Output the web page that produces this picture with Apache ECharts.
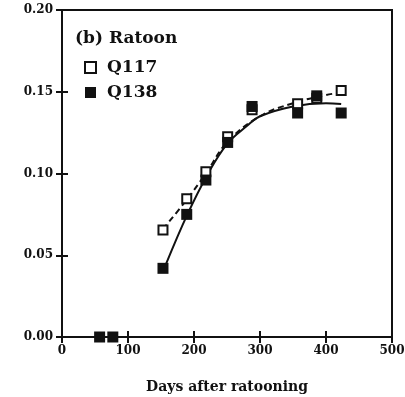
<!DOCTYPE html>
<html><head><meta charset="utf-8">
<script src="https://cdn.jsdelivr.net/npm/echarts@6/dist/echarts.min.js"></script>
<style>html,body{margin:0;padding:0;background:#fff}#c{width:405px;height:397px}</style>
</head><body><div id="c"></div>
<script>
var q117Days = [153, 189, 218, 251, 288, 357, 386, 423];
var q117Vals = [0.0655, 0.0845, 0.101, 0.1225, 0.139, 0.1426, 0.146, 0.1508];
var q138Days = [57, 77, 153, 189, 218, 251, 288, 357, 386, 423];
var q138Vals = [0, 0, 0.042, 0.075, 0.096, 0.119, 0.141, 0.137, 0.1475, 0.137];
var fit117Days = [153, 189, 218, 250, 300, 350, 400, 423];
var fit117Vals = [0.066, 0.084, 0.1, 0.119, 0.135, 0.143, 0.148, 0.1495];
var fit138Days = [158, 190, 220, 250, 280, 300, 350, 400, 423];
var fit138Vals = [0.045, 0.075, 0.099, 0.118, 0.129, 0.135, 0.141, 0.143, 0.1425];
var xTicks = [0, 100, 200, 300, 400, 500];
var yTicks = ['0.00', '0.05', '0.10', '0.15', '0.20'];

function pairs(a, b) { return a.map(function (v, i) { return [v, b[i]]; }); }
var FONT = 'DejaVu Serif';
var chart = echarts.init(document.getElementById('c'));
chart.setOption({
  animation: false,
  title: { text: '(b) Ratoon', left: 70, top: 25,
    textStyle: { fontFamily: FONT, fontWeight: 'bold', fontSize: 17, color: '#111' } },
  legend: {
    data: ['Q117', 'Q138'], orient: 'vertical', left: 79, top: 54,
    itemWidth: 11, itemHeight: 11, itemGap: 8,
    textStyle: { fontFamily: FONT, fontWeight: 'bold', fontSize: 17, color: '#111', padding: [0, 0, 0, 6] }
  },
  grid: { left: 62, right: 13, top: 10, bottom: 60, outerBoundsMode: 'none', containLabel: false,
    show: true, borderColor: '#111', borderWidth: 2, backgroundColor: 'transparent' },
  xAxis: [{
    type: 'value', min: 0, max: 500, interval: 100,
    name: 'Days after ratooning', nameLocation: 'middle', nameGap: 43,
    nameTextStyle: { fontFamily: FONT, fontWeight: 'bold', fontSize: 14, color: '#111' },
    axisLine: { show: true, lineStyle: { color: '#111', width: 2 } },
    axisTick: { show: true, inside: true, length: 6, lineStyle: { color: '#111', width: 2 } },
    axisLabel: { margin: 8, fontFamily: FONT, fontWeight: 'bold', fontSize: 12, color: '#111',
      formatter: function (v) { return xTicks.indexOf(v) >= 0 ? String(v) : ''; } },
    splitLine: { show: false }
  }, {
    type: 'value', min: 0, max: 500, interval: 100, position: 'top',
    axisLine: { show: true, lineStyle: { color: '#111', width: 2 } },
    axisTick: { show: true, inside: true, length: 6, lineStyle: { color: '#111', width: 2 } },
    axisLabel: { show: false }, splitLine: { show: false }
  }],
  yAxis: [{
    type: 'value', min: 0, max: 0.2, interval: 0.05,
    axisLine: { show: true, lineStyle: { color: '#111', width: 2 } },
    axisTick: { show: true, inside: true, length: 6, lineStyle: { color: '#111', width: 2 } },
    axisLabel: { margin: 9, fontFamily: FONT, fontWeight: 'bold', fontSize: 12, color: '#111',
      formatter: function (v) { return yTicks[Math.round(v / 0.05)]; } },
    splitLine: { show: false }
  }, {
    type: 'value', min: 0, max: 0.2, interval: 0.05, position: 'right',
    axisLine: { show: true, lineStyle: { color: '#111', width: 2 } },
    axisTick: { show: true, inside: true, length: 6, lineStyle: { color: '#111', width: 2 } },
    axisLabel: { show: false }, splitLine: { show: false }
  }],
  series: [
    { name: 'fit117', type: 'line', smooth: 0.4, showSymbol: false, symbol: 'none',
      data: pairs(fit117Days, fit117Vals), lineStyle: { color: '#111', width: 2, type: [6, 4] }, z: 1 },
    { name: 'fit138', type: 'line', smooth: 0.4, showSymbol: false, symbol: 'none',
      data: pairs(fit138Days, fit138Vals), lineStyle: { color: '#111', width: 2 }, z: 1 },
    { name: 'Q117', type: 'scatter', symbol: 'rect', symbolSize: 9, clip: false,
      data: pairs(q117Days, q117Vals),
      itemStyle: { color: '#fff', borderColor: '#111', borderWidth: 2, opacity: 1 }, z: 3 },
    { name: 'Q138', type: 'scatter', symbol: 'rect', symbolSize: 11, clip: false,
      data: pairs(q138Days, q138Vals),
      itemStyle: { color: '#111', opacity: 1 }, z: 4 }
  ]
});
</script></body></html>
